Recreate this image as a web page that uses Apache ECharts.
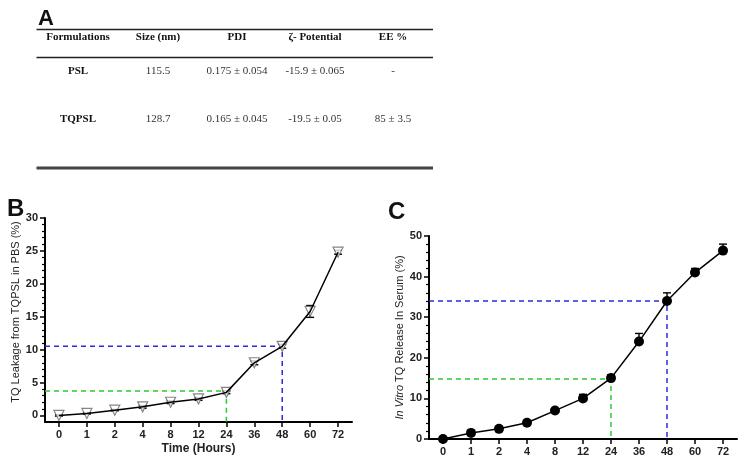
<!DOCTYPE html>
<html>
<head>
<meta charset="utf-8">
<script src="https://cdn.jsdelivr.net/npm/echarts@6/dist/echarts.min.js"></script>
<style>html,body{margin:0;padding:0;background:#fff;}#chart{width:750px;height:474px;}</style>
</head>
<body>
<div id="chart"></div>
<script>
// ---- Data ----
var timeCategories = ['0','1','2','4','8','12','24','36','48','60','72'];
var leakValues   = [0, 0.3, 0.8, 1.3, 2.0, 2.5, 3.5, 8.0, 10.5, 15.8, 24.8];
var leakErrors   = [0.1, 0.1, 0.1, 0.2, 0.2, 0.2, 0.2, 0.3, 0.3, 0.9, 0.3];
var releaseValues = [0, 1.5, 2.5, 4, 7, 10, 15, 24, 34, 41, 46.4];
var releaseErrors = [0.2, 0.2, 0.2, 0.2, 0.3, 1.0, 0.8, 2.0, 2.0, 1.0, 1.6];
var leakTicks = [0, 5, 10, 15, 20, 25, 30];
var releaseTicks = [0, 10, 20, 30, 40, 50];
// guide lines: [category index, y value]
var leakGuides = [[6, 3.7], [8, 10.5]];
var releaseGuides = [[6, 14.8], [8, 34]];
// table
var tableHeaders = ['Formulations', 'Size (nm)', 'PDI', 'ζ- Potential', 'EE %'];
var tableRow1 = ['PSL', '115.5', '0.175 ± 0.054', '-15.9 ± 0.065', '-'];
var tableRow2 = ['TQPSL', '128.7', '0.165 ± 0.045', '-19.5 ± 0.05', '85 ± 3.5'];

var SANS = '"Liberation Sans", Arial, sans-serif';
var SERIF = '"Liberation Serif", "Times New Roman", serif';
var guideColors = ['#2fc72f', '#2b2bdc'];

function idxData(vals, errs) {
  return vals.map(function (v, i) { return [i, v, errs[i]]; });
}
var idxList = timeCategories.map(function (c, i) { return i; });
function minorList(maxV, step, majorStep) {
  var out = [];
  for (var v = 0; v <= maxV; v += step) { if (v % majorStep !== 0) out.push(v); }
  return out;
}

function errorBar(both) {
  return function (params, api) {
    var x = api.value(0), y = api.value(1), e = api.value(2);
    var top = api.coord([x, y + e]);
    var bot = api.coord([x, both ? y - e : y]);
    var w = 4;
    var st = { stroke: '#000', lineWidth: 1.4 };
    var ch = [
      { type: 'line', shape: { x1: top[0], y1: top[1], x2: bot[0], y2: bot[1] }, style: st },
      { type: 'line', shape: { x1: top[0] - w, y1: top[1], x2: top[0] + w, y2: top[1] }, style: st }
    ];
    if (both) ch.push({ type: 'line', shape: { x1: bot[0] - w, y1: bot[1], x2: bot[0] + w, y2: bot[1] }, style: st });
    return { type: 'group', children: ch };
  };
}

function guideSeries(guides, yMin, xAxisIndex, yAxisIndex) {
  return guides.map(function (g, k) {
    return {
      type: 'line', xAxisIndex: xAxisIndex, yAxisIndex: yAxisIndex, z: 1,
      data: [[-0.5, g[1]], [g[0], g[1]], [g[0], yMin]],
      showSymbol: false, silent: true,
      lineStyle: { color: guideColors[k], width: 1.5, type: [5, 4] }
    };
  });
}

function xAxisDef(gridIndex, name) {
  return {
    type: 'value', gridIndex: gridIndex, min: -0.5, max: 10.5,
    name: name || '', nameLocation: 'middle', nameGap: 21,
    nameTextStyle: { fontFamily: SANS, fontWeight: 'bold', fontSize: 12, color: '#222' },
    axisLine: { onZero: false, lineStyle: { color: '#000', width: 2 } },
    axisTick: { customValues: idxList, length: 5, lineStyle: { color: '#000', width: 1.5 } },
    axisLabel: { customValues: idxList, margin: 7, fontFamily: SANS, fontWeight: 'bold', fontSize: 11, color: '#222',
      formatter: function (v) { return timeCategories[Math.round(v)]; } },
    splitLine: { show: false }
  };
}

function yAxisMain(gridIndex, min, max, ticks, name, nameGap, namePad) {
  return {
    type: 'value', gridIndex: gridIndex, min: min, max: max, position: 'left',
    name: name, nameLocation: 'middle', nameGap: nameGap,
    nameTextStyle: { fontFamily: SANS, fontSize: 11, color: '#222', padding: namePad,
      rich: { i: { fontFamily: SANS, fontSize: 11, fontStyle: 'italic', color: '#222' } } },
    axisLine: { show: true, onZero: false, lineStyle: { color: '#000', width: 2 } },
    axisTick: { show: true, customValues: ticks, length: 5, lineStyle: { color: '#000', width: 1.5 } },
    axisLabel: { customValues: ticks, margin: 7, fontFamily: SANS, fontWeight: 'bold', fontSize: 11, color: '#222' },
    splitLine: { show: false }
  };
}
function yAxisMinor(gridIndex, min, max, ticks) {
  return {
    type: 'value', gridIndex: gridIndex, min: min, max: max, position: 'left', offset: 0,
    axisLine: { show: false, onZero: false },
    axisTick: { show: true, customValues: ticks, length: 3, lineStyle: { color: '#000', width: 1.2 } },
    axisLabel: { show: false },
    splitLine: { show: false }
  };
}

var chart = echarts.init(document.getElementById('chart'), null, { renderer: 'canvas' });

// table graphics
var colX = [78, 158, 237, 315, 393];
var graphics = [];
function addRow(row, y, firstBold, allBold) {
  row.forEach(function (t, i) {
    graphics.push({ type: 'text', x: colX[i], y: y, silent: true,
      style: { text: t, align: 'center', verticalAlign: 'middle', fill: (allBold || (firstBold && i === 0)) ? '#111' : '#333',
        font: ((allBold || (firstBold && i === 0)) ? 'bold ' : '') + '11px ' + SERIF } });
  });
}
addRow(tableHeaders, 37, false, true);
addRow(tableRow1, 71.5, true, false);
addRow(tableRow2, 119.5, true, false);
graphics.push({ type: 'line', silent: true, shape: { x1: 36.5, y1: 29.5, x2: 433, y2: 29.5 }, style: { stroke: '#222', lineWidth: 1.5 } });
graphics.push({ type: 'line', silent: true, shape: { x1: 36.5, y1: 57.5, x2: 433, y2: 57.5 }, style: { stroke: '#222', lineWidth: 1.5 } });
graphics.push({ type: 'line', silent: true, shape: { x1: 36.5, y1: 168, x2: 433, y2: 168 }, style: { stroke: '#444', lineWidth: 3 } });
// panel letters
[['A', 38, 19, 22], ['B', 7, 209, 24], ['C', 388, 212, 24]].forEach(function (l) {
  graphics.push({ type: 'text', x: l[1], y: l[2], silent: true,
    style: { text: l[0], align: 'left', verticalAlign: 'middle', fill: '#111', font: 'bold ' + l[3] + 'px ' + SANS } });
});

var option = {
  animation: false,
  backgroundColor: '#fff',
  grid: [
    { left: 45, right: 398, top: 218, bottom: 52 },
    { left: 429, right: 13, top: 236, bottom: 35 }
  ],
  xAxis: [xAxisDef(0, 'Time (Hours)'), xAxisDef(1, '')],
  yAxis: [
    yAxisMain(0, -1, 30, leakTicks, 'TQ Leakage from TQPSL in PBS (%)', 15, [0, 0, 0, 16]),
    yAxisMinor(0, -1, 30, minorList(30, 1, 5)),
    yAxisMain(1, 0, 50, releaseTicks, '{i|In Vitro} TQ Release In Serum (%)', 18, 0),
    yAxisMinor(1, 0, 50, minorList(50, 2, 10))
  ],
  graphic: graphics,
  series: [].concat(
    guideSeries(leakGuides, -1, 0, 0),
    guideSeries(releaseGuides, 0, 1, 2),
    [
      { type: 'custom', xAxisIndex: 0, yAxisIndex: 0, z: 2, renderItem: errorBar(true), data: idxData(leakValues, leakErrors), silent: true },
      { type: 'scatter', xAxisIndex: 0, yAxisIndex: 0, z: 3, symbol: 'triangle', symbolRotate: 180, symbolSize: 10,
        itemStyle: { color: '#fff', borderColor: '#666', borderWidth: 1.2 },
        data: leakValues.map(function (v, i) { return [i, v]; }) },
      { type: 'line', xAxisIndex: 0, yAxisIndex: 0, z: 4, showSymbol: false,
        lineStyle: { color: '#000', width: 1.5 },
        data: leakValues.map(function (v, i) { return [i, v]; }) },
      { type: 'custom', xAxisIndex: 1, yAxisIndex: 2, z: 2, renderItem: errorBar(false), data: idxData(releaseValues, releaseErrors), silent: true },
      { type: 'line', xAxisIndex: 1, yAxisIndex: 2, z: 3, symbol: 'circle', symbolSize: 10,
        lineStyle: { color: '#000', width: 1.5 },
        itemStyle: { color: '#000' },
        data: releaseValues.map(function (v, i) { return [i, v]; }) }
    ]
  )
};
chart.setOption(option);
</script>
</body>
</html>
